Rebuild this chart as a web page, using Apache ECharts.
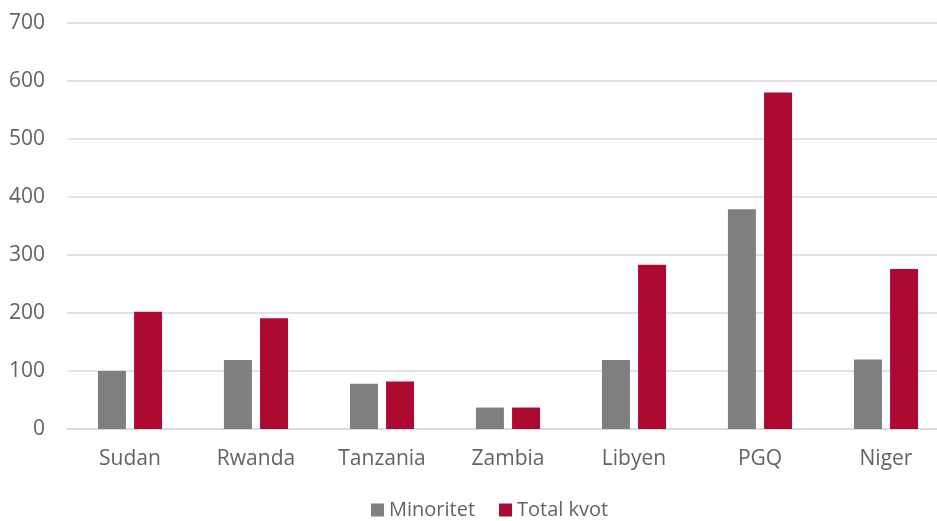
<!DOCTYPE html>
<html>
<head>
<meta charset="utf-8">
<script src="https://cdn.jsdelivr.net/npm/echarts@6/dist/echarts.min.js"></script>
<style>
  html, body { margin: 0; padding: 0; background: #fff; overflow: hidden; }
  #chart { width: 937px; height: 521px; }
</style>
</head>
<body>
<div id="chart"></div>
<script>
  // kategorier och värden
  const categories = ['Sudan', 'Rwanda', 'Tanzania', 'Zambia', 'Libyen', 'PGQ', 'Niger'];
  const minoritet = [100, 119, 78, 37, 119, 379, 120];
  const totalKvot = [202, 191, 82, 37, 283, 580, 276];

  const font = '"Open Sans", "Noto Sans", sans-serif';
  const textColor = '#636363';

  let chart = echarts.init(document.getElementById('chart'));
  chart.setOption({
    animation: false,
    textStyle: { fontFamily: font },
    // plottytan går lite utanför högerkanten, som i originalet
    grid: { left: 67, width: 882, top: 23, bottom: 92, containLabel: false, outerBoundsMode: 'none' },
    legend: {
      top: 500,
      left: 366,
      padding: [0, 5],
      itemWidth: 13,
      itemHeight: 13,
      itemGap: 24,
      icon: 'rect',
      textStyle: { color: textColor, fontSize: 20, fontFamily: font },
      data: ['Minoritet', 'Total kvot']
    },
    xAxis: {
      type: 'category',
      data: categories,
      axisTick: { show: false },
      axisLine: { lineStyle: { color: '#d9d9d9', width: 1.5 } },
      axisLabel: { color: textColor, fontSize: 21, margin: 20, fontFamily: font }
    },
    yAxis: {
      type: 'value',
      min: 0,
      max: 700,
      interval: 100,
      axisLine: { show: false },
      axisTick: { show: false },
      axisLabel: { color: textColor, fontSize: 21, margin: 22, fontFamily: font },
      splitLine: { lineStyle: { color: '#d9d9d9', width: 1.5 } }
    },
    series: [
      {
        name: 'Minoritet',
        type: 'bar',
        data: minoritet,
        barWidth: 28,
        barGap: '29%',
        itemStyle: { color: '#7f7f7f' }
      },
      {
        name: 'Total kvot',
        type: 'bar',
        data: totalKvot,
        barWidth: 28,
        itemStyle: { color: '#ad0a31' }
      }
    ]
  });
</script>
</body>
</html>
